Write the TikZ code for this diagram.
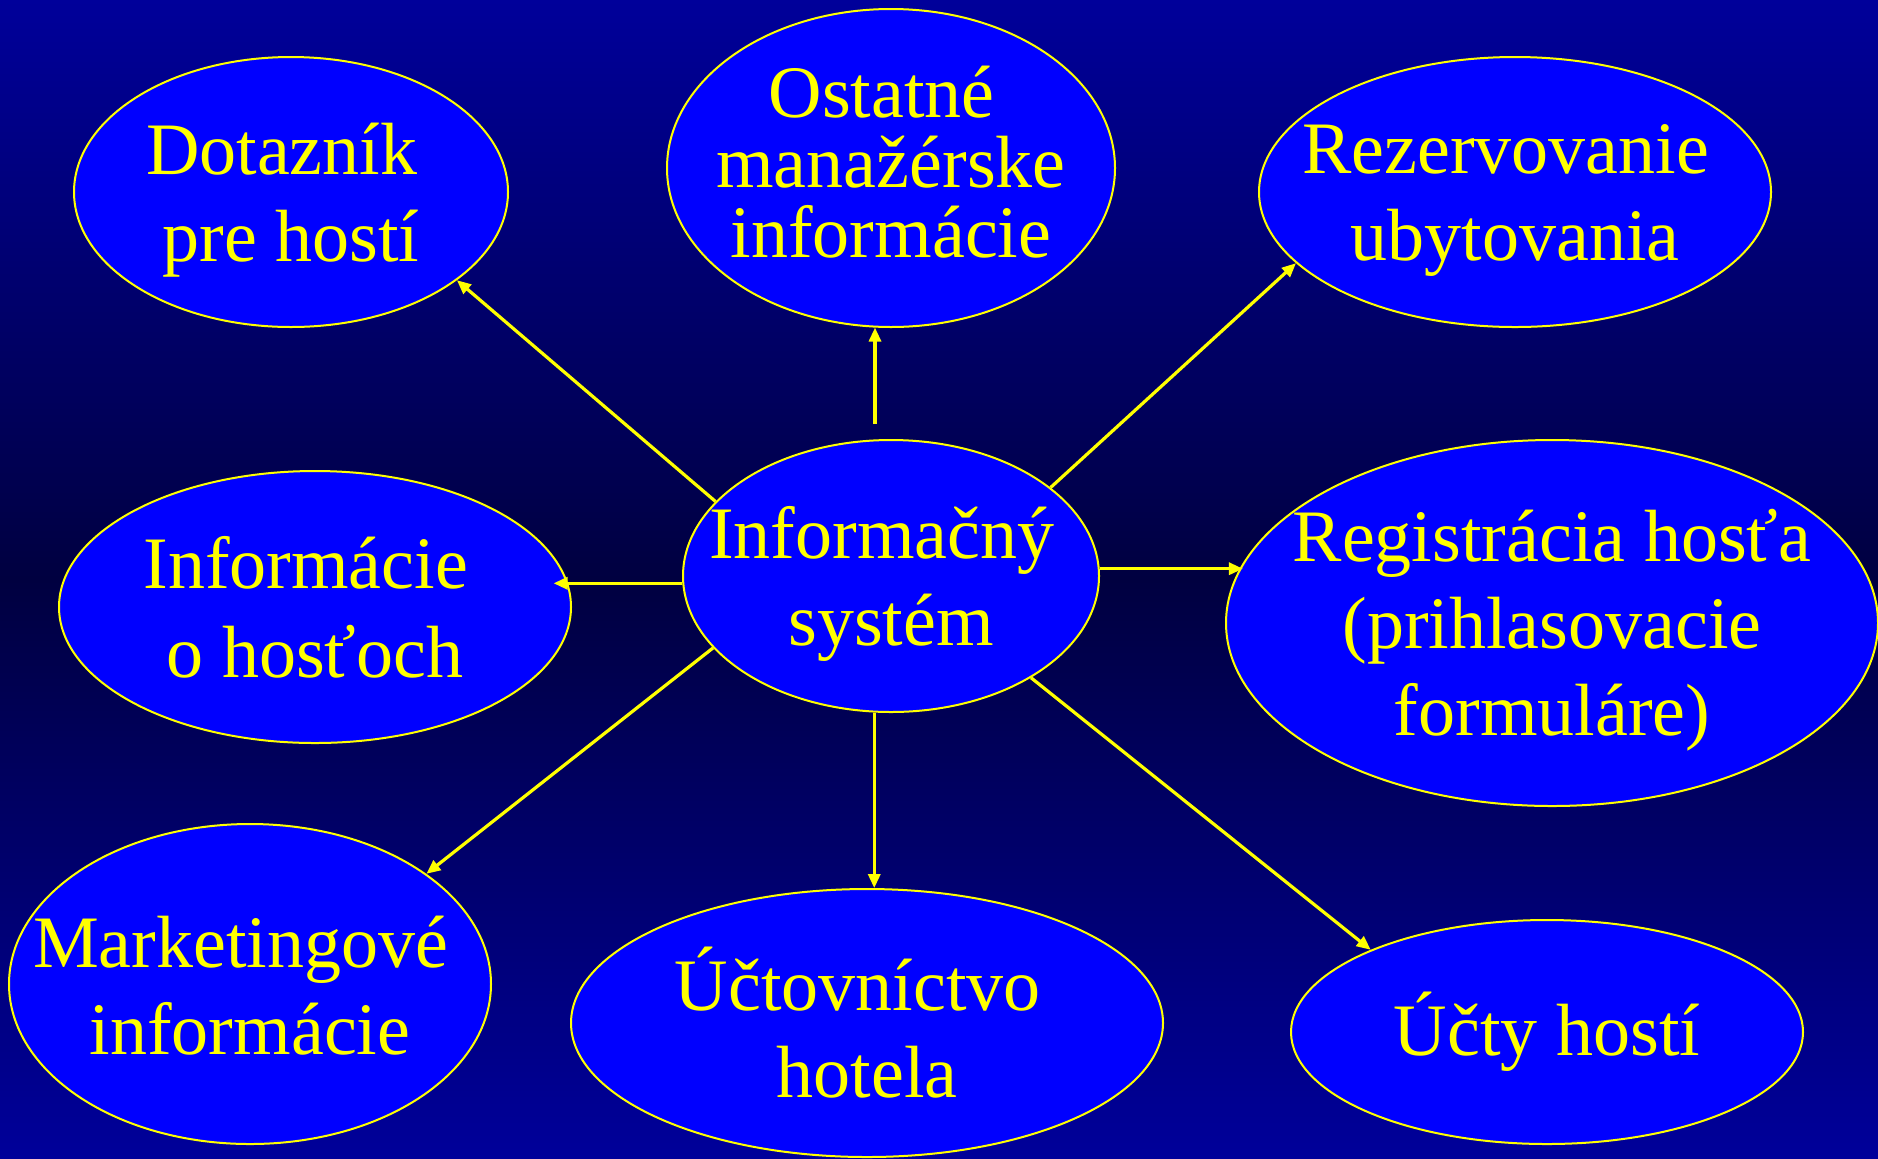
\documentclass[tikz,border=0pt]{standalone}
\usepackage{fontspec}
\setmainfont{Liberation Serif}
\usetikzlibrary{shapes.geometric,arrows.meta}
\definecolor{bgtop}{RGB}{0,0,154}
\definecolor{bgmid}{RGB}{0,0,64}
\definecolor{bubblefill}{RGB}{0,0,255}
\definecolor{ink}{RGB}{255,255,0}
\newcommand\tsp{\kern0.25em}
\tikzset{
  bubble/.style={ellipse,draw=ink,line width=1pt,fill=bubblefill,inner sep=0pt},
  txt/.style={text=ink,align=center,font=\fontsize{37}{43.5}\selectfont,inner sep=0pt},
  arr/.style={draw=ink,line width=1.6pt,-{Triangle[length=7pt,width=6pt]}}
}
\begin{document}
\begin{tikzpicture}[x=0.5pt,y=0.5pt,yscale=-1]

    % background
    \fill [top color=bgtop,bottom color=bgtop,middle color=bgmid] (0,0) rectangle (1878,1158);
    \useasboundingbox (0,0) rectangle (1878,1158);

    % Ellipses
    \node [bubble,minimum width=217pt,minimum height=135pt,label={[txt,yshift=-4pt]center:Dotazník\tsp\\pre hostí}] (quest) at (291,192) {};
    \node [bubble,minimum width=224pt,minimum height=159pt,label={[txt,yshift=3pt,font=\fontsize{37}{35}\selectfont]center:Ostatné\tsp\\manažérske\\informácie}] (mgmt) at (891,168) {};
    \node [bubble,minimum width=256pt,minimum height=135pt,label={[txt,yshift=-4pt]center:Rezervovanie\tsp\\ubytovania}] (resv) at (1515,192) {};
    \node [bubble,minimum width=256pt,minimum height=136pt,label={[txt,font=\fontsize{37}{44.5}\selectfont]center:Informácie\tsp\\o hosťoch}] (guest) at (315,607) {};
    \node [bubble,minimum width=208pt,minimum height=136pt,label={[txt,yshift=-4pt]center:Informačný\tsp\\systém}] (sys) at (891,576) {};
    \node [bubble,minimum width=326pt,minimum height=183pt,label={[txt,yshift=-3.5pt]center:Registrácia hosťa\\(prihlasovacie\\formuláre)}] (reg) at (1552,623) {};
    \node [bubble,minimum width=241pt,minimum height=160pt,label={[txt,yshift=-1pt]center:Marketingové\tsp\\informácie}] (mkt) at (250,984) {};
    \node [bubble,minimum width=296pt,minimum height=134pt,label={[txt]center:Účtovníctvo\tsp\\hotela}] (acct) at (867,1023) {};
    \node [bubble,minimum width=256pt,minimum height=112pt,label={[txt]center:Účty hostí}] (bills) at (1547,1032) {};

    % free end above the centre
    \coordinate (mgmtfrom) at (875,424);

    % Arrows
    \draw [arr] (sys.157.5) -- (quest.332);
    \draw [arr] (mgmtfrom) -- (mgmtfrom |- mgmt.264.3);
    \draw [arr] (sys.29.2) -- (resv.198);
    \draw [arr,shorten >=-7.5pt] (sys.182.2) -- (sys.182.2 -| guest.5.5);
    \draw [arr] (sys.2.2) -- (sys.2.2 -| reg.169.9);
    \draw [arr] (sys.202.5) -- (mkt.32.4);
    \draw [arr] (sys.263.3) -- (sys.263.3 |- acct.86.6);
    \draw [arr] (sys.324.2) -- (bills.155.7);

\end{tikzpicture}
\end{document}
